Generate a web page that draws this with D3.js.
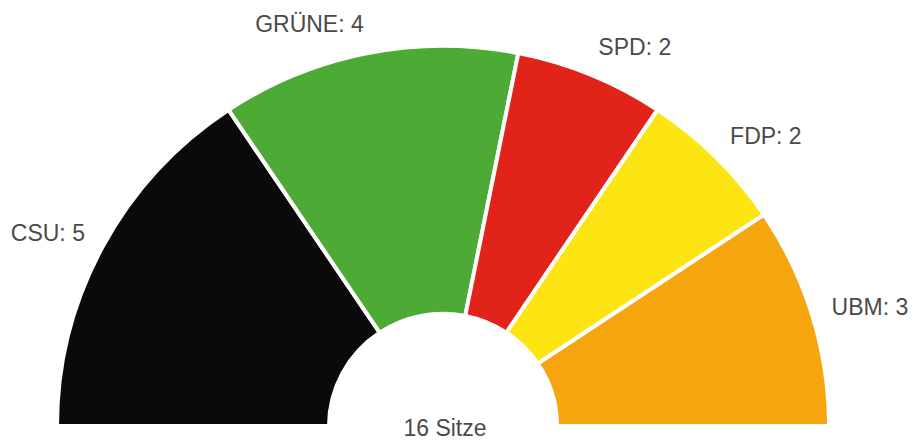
<!DOCTYPE html>
<html>
<head>
<meta charset="utf-8">
<script src="https://cdn.jsdelivr.net/npm/d3@7"></script>
<style>
  body { margin: 0; background: #fff; }
  text { font-family: "Liberation Sans", Arial, sans-serif; }
</style>
</head>
<body>
<svg id="drawing_region"></svg>
<script>
const parties = ["CSU", "GRÜNE", "SPD", "FDP", "UBM"];
const seats = [5, 4, 2, 2, 3];
const colors = ["#0a0a0a", "#4dab35", "#e2231a", "#fde513", "#f5a60e"];
const total_label = "16 Sitze";

const data = parties.map((p, i) => ({ party: p, seats: seats[i], color: colors[i] }));

const config = {
    width: 913,
    height: 441,
    cx: 443,
    cy: 426,
    outer: 386,
    inner: 114,
    squash: 0.985,
    label_r: 416
};

const svg = d3.select("#drawing_region")
    .attr("width", config.width)
    .attr("height", config.height);

const pie = d3.pie()
    .value(d => d.seats)
    .sort(null)
    .startAngle(-Math.PI / 2)
    .endAngle(Math.PI / 2);

const arc = d3.arc()
    .innerRadius(config.inner)
    .outerRadius(config.outer);

const arcs = pie(data);

const chart = svg.append("g")
    .attr("transform", `translate(${config.cx}, ${config.cy}) scale(1, ${config.squash})`);

chart.selectAll("path")
    .data(arcs)
    .enter()
    .append("path")
    .attr("d", arc)
    .attr("fill", d => d.data.color)
    .attr("stroke", "#fff")
    .attr("stroke-width", 4)
    .attr("stroke-linejoin", "miter");

// labels outside the ring
svg.selectAll("text.label")
    .data(arcs)
    .enter()
    .append("text")
    .attr("class", "label")
    .each(function(d) {
        const a = (d.startAngle + d.endAngle) / 2;
        const s = Math.sin(a), c = Math.cos(a);
        const x = config.cx + config.label_r * s - 10 * s;
        const y = config.cy - config.label_r * c * config.squash;
        d3.select(this)
            .attr("x", x)
            .attr("y", y)
            .attr("text-anchor", s < 0 ? "end" : "start");
    })
    .attr("dy", "0.35em")
    .attr("font-size", "23px")
    .attr("fill", "#4a4a4a")
    .text(d => `${d.data.party}: ${d.data.seats}`);

svg.append("text")
    .attr("x", config.cx + 2)
    .attr("y", 436)
    .attr("text-anchor", "middle")
    .attr("font-size", "23px")
    .attr("fill", "#4a4a4a")
    .text(total_label);
</script>
</body>
</html>
